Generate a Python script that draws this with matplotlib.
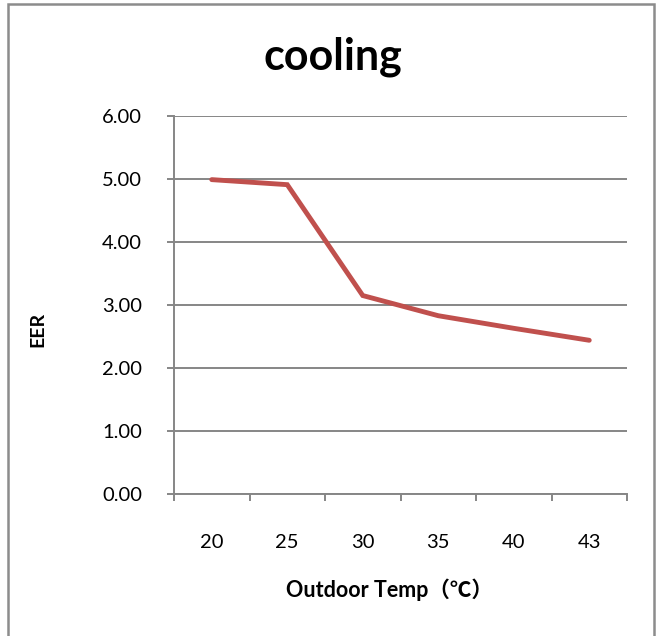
import matplotlib.pyplot as plt
import matplotlib.patches as patches
import numpy as np

plt.rcParams['font.family'] = ['Lato', 'Noto Sans CJK SC', 'DejaVu Sans']

temps = ["20", "25", "30", "35", "40", "43"]
eer = [4.99, 4.91, 3.15, 2.83, 2.63, 2.44]
y_ticks = [0, 1, 2, 3, 4, 5, 6]

GRID = '#868686'
LINE = '#C0504D'

fig = plt.figure(figsize=(6.59, 6.36), dpi=100)
fig.patch.set_facecolor('white')

# outer chart frame (bottom edge runs off the picture)
frame = patches.Rectangle((8 / 659, -0.05), 646 / 659, 1.05 - 3.5 / 636,
                          transform=fig.transFigure, fill=False,
                          edgecolor='#8c8c8c', linewidth=1.8, clip_on=False)
fig.patches.append(frame)

ax = fig.add_axes([174 / 659, 1 - 494 / 636, 453 / 659, 378 / 636])
x = np.arange(len(temps))
ax.plot(x, eer, color=LINE, linewidth=3.5, solid_capstyle='round',
        solid_joinstyle='miter', zorder=3)

ax.set_xlim(-0.5, len(temps) - 0.5)
ax.set_ylim(0, 6)
ax.set_yticks(y_ticks)
ax.set_yticklabels([f"{v:.2f}" for v in y_ticks])
ax.set_xticks(x)
ax.set_xticklabels(temps)
ax.set_xticks(np.arange(-0.5, len(temps)), minor=True)

ax.grid(axis='y', color=GRID, linewidth=1.4, zorder=1)
for s in ['top', 'right']:
    ax.spines[s].set_visible(False)
for s in ['left', 'bottom']:
    ax.spines[s].set_color(GRID)
    ax.spines[s].set_linewidth(1.4)

ax.tick_params(axis='y', direction='out', length=5, width=1.4, color=GRID,
               labelsize=14.5, pad=18, labelcolor='black')
ax.tick_params(axis='x', which='major', length=0, labelsize=14.5, pad=29,
               labelcolor='black')
ax.tick_params(axis='x', which='minor', direction='out', length=5, width=1.4,
               color=GRID)

fig.text(333 / 659, 1 - 57 / 636, "cooling", ha='center', va='center',
         fontsize=31, fontweight='bold')
fig.text(38 / 659, 1 - 329 / 636, "EER", ha='center', va='center',
         rotation=90, fontsize=14, fontweight='bold')
fig.text(389 / 659, 1 - 590 / 636, "Outdoor Temp（℃）", ha='center',
         va='center', fontsize=15.5, fontweight='bold')

fig.savefig("out.png", dpi=100)
